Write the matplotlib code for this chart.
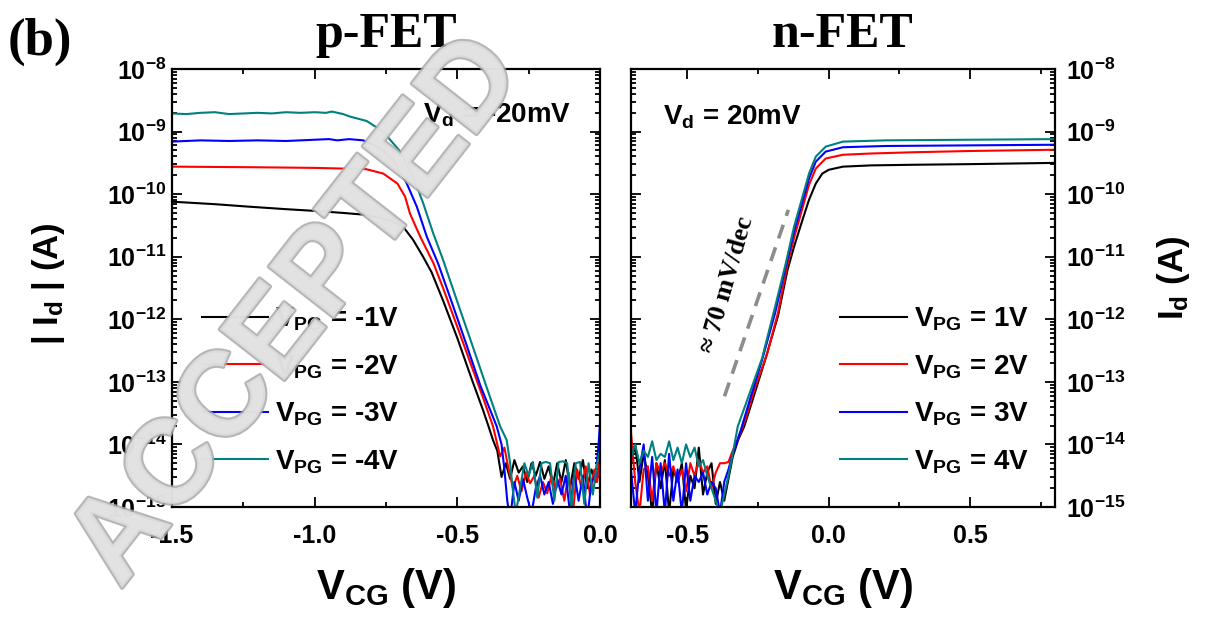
import matplotlib
matplotlib.use('Agg')
import matplotlib.pyplot as plt
import matplotlib.patheffects as pe
from matplotlib.ticker import MultipleLocator
import numpy as np

plt.rcParams['font.family'] = 'Liberation Sans'
plt.rcParams['font.weight'] = 'bold'
plt.rcParams['axes.labelweight'] = 'bold'
plt.rcParams['mathtext.fontset'] = 'custom'
plt.rcParams['mathtext.rm'] = 'Liberation Sans:bold'
plt.rcParams['mathtext.it'] = 'Liberation Sans:bold'
plt.rcParams['mathtext.bf'] = 'Liberation Sans:bold'
plt.rcParams['mathtext.default'] = 'regular'
plt.rcParams['axes.unicode_minus'] = False

# ---- p-FET, |Id| as log10(A) vs V_CG ----
p_x_m1 = [-1.50, -1.35, -1.23, -1.10, -0.99, -0.90, -0.82, -0.74, -0.69, -0.655, -0.62, -0.59, -0.55,
          -0.50, -0.45, -0.41, -0.39, -0.375, -0.36, -0.345, -0.33, -0.315, -0.30, -0.285, -0.27,
          -0.255, -0.24, -0.225, -0.21, -0.195, -0.18, -0.165, -0.15, -0.135, -0.12, -0.105, -0.09,
          -0.075, -0.06, -0.045, -0.03, -0.015, 0.0]
p_log_m1 = [-10.12, -10.16, -10.20, -10.24, -10.27, -10.30, -10.33, -10.41, -10.52, -10.73, -11.00,
            -11.25, -11.70, -12.30, -12.95, -13.45, -13.72, -13.93, -14.10, -14.52, -14.30, -14.55,
            -14.25, -14.45, -14.35, -14.60, -14.30, -14.50, -14.28, -14.55, -14.35, -14.65, -14.30,
            -14.60, -14.25, -14.70, -14.30, -14.55, -14.25, -14.70, -14.40, -14.60, -14.35]

p_x_m2 = [-1.50, -1.20, -1.00, -0.82, -0.76, -0.71, -0.683, -0.666, -0.63, -0.584, -0.55, -0.50, -0.45,
          -0.41, -0.375, -0.35, -0.335, -0.32, -0.305, -0.29, -0.275, -0.26, -0.245, -0.23, -0.215,
          -0.20, -0.185, -0.17, -0.155, -0.14, -0.125, -0.11, -0.095, -0.08, -0.065, -0.05, -0.035,
          -0.02, -0.01, 0.0]
p_log_m2 = [-9.56, -9.57, -9.58, -9.60, -9.67, -9.83, -10.04, -10.31, -10.68, -11.10, -11.50, -12.12,
            -12.75, -13.25, -13.71, -14.19, -14.05, -14.40, -14.70, -14.50, -14.75, -14.45, -14.62,
            -14.50, -14.85, -14.60, -14.78, -14.50, -14.72, -14.55, -14.90, -14.45, -15.10, -14.40,
            -14.70, -14.35, -14.80, -14.40, -14.60, -14.20]

p_x_m3 = [-1.50, -1.40, -1.30, -1.20, -1.10, -1.00, -0.95, -0.92, -0.88, -0.83, -0.77, -0.725, -0.677,
          -0.642, -0.607, -0.568, -0.52, -0.47, -0.42, -0.362, -0.345, -0.335, -0.325, -0.315, -0.30,
          -0.285, -0.27, -0.255, -0.24, -0.225, -0.21, -0.195, -0.18, -0.165, -0.15, -0.135, -0.12,
          -0.105, -0.09, -0.075, -0.06, -0.045, -0.03, -0.015, -0.005, 0.0]
p_log_m3 = [-9.16, -9.14, -9.15, -9.14, -9.15, -9.13, -9.12, -9.14, -9.12, -9.14, -9.27, -9.45, -9.83,
            -10.20, -10.68, -11.10, -11.72, -12.38, -13.05, -13.71, -14.00, -14.40, -14.90, -15.20,
            -14.60, -14.90, -14.55, -14.85, -15.10, -14.70, -14.50, -14.80, -14.60, -14.95, -14.55,
            -14.80, -14.50, -15.10, -14.45, -14.90, -14.50, -15.20, -14.60, -14.50, -14.00, -13.66]

p_x_m4 = [-1.50, -1.45, -1.40, -1.35, -1.30, -1.25, -1.20, -1.15, -1.10, -1.05, -1.00, -0.96, -0.94,
          -0.90, -0.876, -0.818, -0.76, -0.70, -0.655, -0.62, -0.585, -0.55, -0.50, -0.45, -0.40,
          -0.35, -0.327, -0.315, -0.305, -0.295, -0.28, -0.265, -0.25, -0.235, -0.22, -0.205, -0.19,
          -0.175, -0.16, -0.145, -0.13, -0.115, -0.10, -0.085, -0.07, -0.055, -0.04, -0.025, -0.01, 0.0]
p_log_m4 = [-8.71, -8.72, -8.70, -8.69, -8.72, -8.71, -8.70, -8.71, -8.69, -8.70, -8.69, -8.70, -8.68,
            -8.72, -8.76, -8.83, -9.00, -9.32, -9.72, -10.14, -10.62, -11.05, -11.72, -12.38, -13.05,
            -13.71, -13.93, -14.30, -14.75, -15.10, -14.70, -14.30, -14.50, -14.28, -14.85, -14.30,
            -14.28, -14.30, -14.90, -14.28, -14.27, -14.30, -15.00, -14.30, -14.28, -14.95, -14.30,
            -14.80, -14.30, -14.09]

# ---- n-FET ----
n_noise_x = [-0.70, -0.685, -0.67, -0.655, -0.64, -0.625, -0.61, -0.595, -0.58, -0.565, -0.55, -0.535,
             -0.52, -0.505, -0.49, -0.475, -0.46, -0.445, -0.43, -0.415, -0.40, -0.385, -0.37, -0.355, -0.34]

n_x_1 = [-0.32, -0.299, -0.26, -0.222, -0.18, -0.146, -0.123, -0.093, -0.07, -0.046, -0.023, 0.0, 0.05,
         0.15, 0.30, 0.50, 0.65, 0.80]
n_log_1 = [-14.30, -14.00, -14.60, -14.15, -14.50, -15.10, -14.30, -14.70, -14.25, -15.10, -14.40, -14.60,
           -14.30, -15.05, -14.50, -14.70, -14.05, -14.80, -14.45, -14.30, -14.95, -14.60, -14.90, -14.55,
           -14.20,
           -13.92, -13.71, -13.15, -12.60, -11.95, -11.21, -10.84, -10.41, -10.09, -9.83, -9.67, -9.61,
           -9.56, -9.54, -9.53, -9.52, -9.51, -9.50]

n_x_2 = [-0.32, -0.295, -0.26, -0.218, -0.18, -0.146, -0.123, -0.093, -0.07, -0.046, -0.011, 0.05, 0.15,
         0.30, 0.50, 0.80]
n_log_2 = [-13.80, -14.60, -15.10, -14.40, -14.35, -14.90, -14.30, -14.45, -14.30, -14.50, -14.35, -14.60,
           -14.40, -14.75, -14.30, -14.50, -14.25, -14.45, -14.35, -14.70, -14.45, -14.30, -14.30, -14.28,
           -14.10,
           -13.90, -13.60, -13.08, -12.55, -11.90, -11.12, -10.70, -10.22, -9.85, -9.59, -9.43, -9.37,
           -9.35, -9.33, -9.31, -9.29]

n_x_3 = [-0.31, -0.275, -0.236, -0.19, -0.152, -0.123, -0.093, -0.07, -0.046, -0.011, 0.05, 0.20, 0.50, 0.80]
n_log_3 = [-14.40, -15.10, -14.40, -14.00, -14.90, -14.20, -15.10, -14.30, -15.10, -14.15, -14.90, -14.40,
           -15.10, -14.30, -14.90, -14.50, -14.60, -14.45, -14.80, -14.60, -14.70, -15.10, -14.60, -14.40,
           -14.15,
           -13.75, -13.22, -12.65, -11.90, -11.15, -10.60, -10.12, -9.75, -9.48, -9.32, -9.25, -9.23,
           -9.22, -9.21]

n_x_4 = [-0.322, -0.28, -0.236, -0.19, -0.152, -0.123, -0.093, -0.07, -0.046, -0.011, 0.05, 0.20, 0.50, 0.80]
n_log_4 = [-14.20, -14.00, -14.30, -14.10, -14.20, -13.95, -14.25, -14.15, -14.20, -13.95, -14.25, -14.05,
           -14.30, -14.00, -14.20, -14.05, -14.35, -14.25, -14.50, -14.70, -14.90, -15.10, -14.80, -14.50,
           -14.15,
           -13.71, -13.18, -12.62, -11.80, -11.10, -10.52, -10.04, -9.67, -9.40, -9.24, -9.16, -9.14,
           -9.13, -9.12]

# guide line for the subthreshold slope
slope_x = [-0.369, -0.143]
slope_log = [-13.23, -10.25]

colors = ['black', '#ff0000', '#0000ff', '#008080']
p_labels = ['V$_{PG}$ = -1V', 'V$_{PG}$ = -2V', 'V$_{PG}$ = -3V', 'V$_{PG}$ = -4V']
n_labels = ['V$_{PG}$ = 1V', 'V$_{PG}$ = 2V', 'V$_{PG}$ = 3V', 'V$_{PG}$ = 4V']

p_curves = [(p_x_m1, p_log_m1), (p_x_m2, p_log_m2), (p_x_m3, p_log_m3), (p_x_m4, p_log_m4)]
n_curves = [(n_noise_x + n_x_1, n_log_1), (n_noise_x + n_x_2, n_log_2),
            (n_noise_x + n_x_3, n_log_3), (n_noise_x + n_x_4, n_log_4)]

fig = plt.figure(figsize=(12.19, 6.31), dpi=100)
ax1 = fig.add_axes([0.1411, 0.1965, 0.3511, 0.6941])
ax2 = fig.add_axes([0.5176, 0.1965, 0.3478, 0.6941])


def style_axes(ax):
    ax.set_yscale('log')
    ax.set_ylim(1e-15, 1e-8)
    ax.xaxis.set_major_locator(MultipleLocator(0.5))
    ax.xaxis.set_minor_locator(MultipleLocator(0.25))
    for s in ax.spines.values():
        s.set_linewidth(1.6)
    ax.tick_params(which='both', direction='in', top=True, bottom=True, left=True, right=True,
                   width=1.3, labelsize=18)
    ax.tick_params(which='major', length=7)
    ax.tick_params(which='minor', length=3.5)
    ax.tick_params(axis='x', pad=12)


for (x, lg), c, lab in zip(p_curves, colors, p_labels):
    ax1.plot(x, 10.0 ** np.array(lg), color=c, lw=1.5, label=lab)
style_axes(ax1)
ax1.set_xlim(-1.5, 0.0)
ax1.tick_params(axis='y', pad=4)
ax1.set_title('p-FET', fontfamily='Liberation Serif', fontweight='bold', fontsize=36, pad=16)
ax1.set_xlabel('V$_{CG}$ (V)', fontsize=30, fontweight='bold')
ax1.xaxis.set_label_coords(0.5, -0.135)
ax1.set_ylabel('| I$_{d}$ | (A)', fontsize=25, fontweight='bold')
ax1.yaxis.set_label_coords(-0.245, 0.51)
ax1.text(0.587, 0.877, 'V$_{d}$ = -20mV', transform=ax1.transAxes, fontsize=20, va='baseline')
ax1.legend(loc='center left', bbox_to_anchor=(0.069, 0.2656), frameon=False, fontsize=20,
           handlelength=2.4, handletextpad=0.25, labelspacing=0.72, borderpad=0, borderaxespad=0)

for (x, lg), c, lab in zip(n_curves, colors, n_labels):
    ax2.plot(x, 10.0 ** np.array(lg), color=c, lw=1.5, label=lab)
ax2.plot(slope_x, 10.0 ** np.array(slope_log), color='#8c8c8c', lw=2.6, ls=(0, (4, 2.6)))
style_axes(ax2)
ax2.set_xlim(-0.7, 0.8)
ax2.yaxis.tick_right()
ax2.yaxis.set_ticks_position('both')
ax2.tick_params(axis='y', which='both', labelleft=False, labelright=True, pad=8)
ax2.set_title('n-FET', fontfamily='Liberation Serif', fontweight='bold', fontsize=36, pad=16)
ax2.set_xlabel('V$_{CG}$ (V)', fontsize=30, fontweight='bold')
ax2.xaxis.set_label_coords(0.5, -0.135)
ax2.yaxis.set_label_position('right')
ax2.set_ylabel('I$_{d}$ (A)', fontsize=25, fontweight='bold', rotation=90)
ax2.yaxis.set_label_coords(1.236, 0.522)
ax2.text(0.076, 0.874, 'V$_{d}$ = 20mV', transform=ax2.transAxes, fontsize=20, va='baseline')
ax2.text(0.226, 0.507, '\u2248 70 mV/dec', transform=ax2.transAxes, fontsize=19, rotation=74,
         ha='center', va='center', rotation_mode='anchor', fontfamily='Liberation Serif',
         fontweight='bold')
ax2.legend(loc='center left', bbox_to_anchor=(0.493, 0.2656), frameon=False, fontsize=20,
           handlelength=2.4, handletextpad=0.25, labelspacing=0.72, borderpad=0, borderaxespad=0)

fig.text(0.006, 0.913, '(b)', fontfamily='Liberation Serif', fontweight='bold', fontsize=38)

# watermark
fig.text(0.245, 0.505, 'ACCEPTED', rotation=52, fontsize=86, ha='center', va='center',
         color='#e2e2e2', alpha=0.85, fontweight='bold', zorder=10,
         path_effects=[pe.withStroke(linewidth=3, foreground='#aaaaaa')])

fig.savefig('out.png', dpi=100)
